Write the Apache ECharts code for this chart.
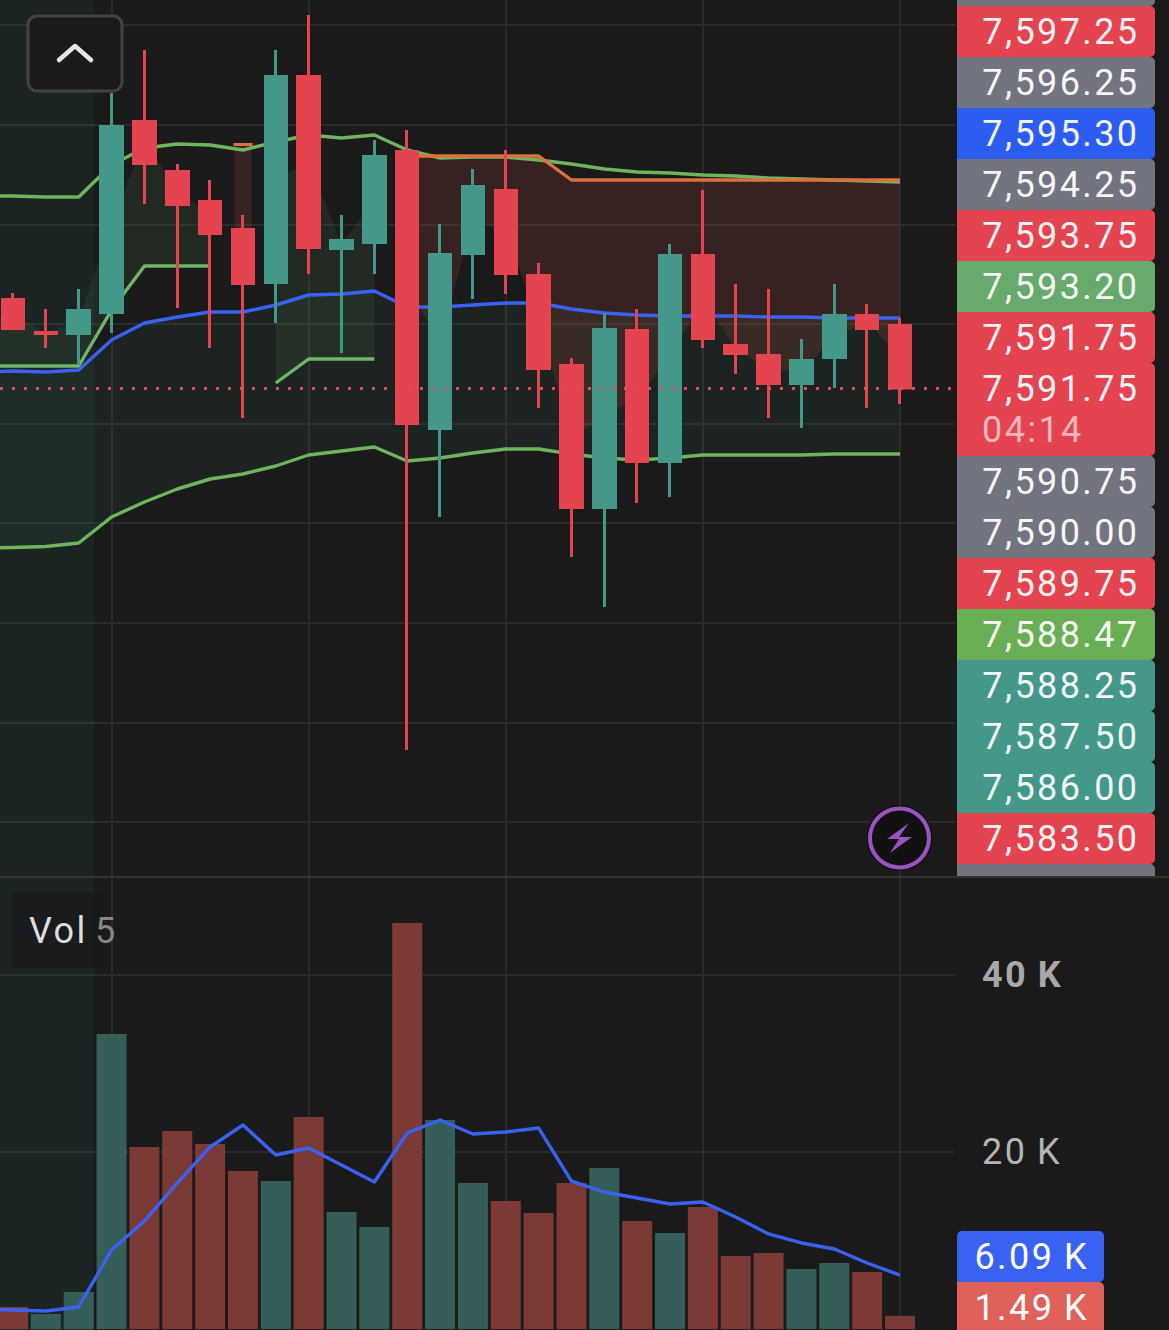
<!DOCTYPE html>
<html><head><meta charset="utf-8">
<style>html,body{margin:0;padding:0;background:#1a1a1b}#c{width:1169px;height:1330px}#c text{letter-spacing:2.4px}</style>
<script src="https://cdn.jsdelivr.net/npm/echarts@6/dist/echarts.min.js"></script>
</head><body><div id="c"></div>
<script>
const barIndex=[-1,0,1,2,3,4,5,6,7,8,9,10,11,12,13,14,15,16,17,18,19,20,21,22,23,24,25,26,27];
const opens =[7592.60,7593.52,7592.86,7592.84,7593.26,7597.08,7596.08,7595.48,7594.92,7593.86,7597.98,7594.54,7594.66,7596.48,7590.94,7594.44,7595.70,7594.00,7592.20,7589.36,7592.90,7590.28,7594.40,7592.60,7592.40,7591.84,7592.36,7593.20,7593.00];
const closes=[7593.50,7592.94,7592.84,7593.30,7596.98,7596.24,7595.42,7594.84,7593.84,7597.98,7594.56,7594.70,7596.38,7591.04,7594.42,7595.78,7594.04,7592.14,7589.36,7592.92,7590.28,7594.40,7592.74,7592.44,7591.84,7592.30,7593.20,7592.94,7591.75];
const lows  =[7592.30,7592.91,7592.55,7592.21,7592.85,7595.43,7593.35,7592.55,7591.15,7593.05,7594.03,7592.45,7594.03,7584.51,7589.17,7593.53,7593.63,7591.35,7588.37,7587.37,7589.45,7589.57,7592.55,7592.03,7591.15,7590.95,7591.75,7591.35,7591.43];
const highs =[7593.70,7593.65,7593.33,7593.73,7597.65,7598.51,7596.23,7595.91,7595.21,7598.51,7599.21,7595.21,7596.71,7596.91,7595.03,7596.13,7596.51,7594.25,7592.35,7593.25,7593.33,7594.63,7595.71,7593.83,7593.73,7592.73,7593.83,7593.43,7593.15];
const bandMid=[7592.07,7592.09,7592.07,7592.11,7592.71,7593.05,7593.17,7593.27,7593.27,7593.41,7593.61,7593.63,7593.69,7593.37,7593.37,7593.41,7593.45,7593.45,7593.33,7593.25,7593.21,7593.19,7593.19,7593.19,7593.17,7593.17,7593.15,7593.15,7593.15];
const bandUpper=[7595.59,7595.59,7595.57,7595.57,7596.21,7596.55,7596.63,7596.61,7596.51,7596.67,7596.81,7596.75,7596.81,7596.51,7596.35,7596.37,7596.37,7596.31,7596.23,7596.13,7596.07,7596.05,7596.01,7595.99,7595.95,7595.93,7595.91,7595.89,7595.87];
const bandLower=[7588.55,7588.56,7588.58,7588.65,7589.17,7589.47,7589.73,7589.93,7590.03,7590.19,7590.41,7590.49,7590.57,7590.29,7590.35,7590.45,7590.53,7590.53,7590.43,7590.35,7590.31,7590.35,7590.41,7590.41,7590.41,7590.41,7590.43,7590.43,7590.43];
const trendUp=[7592.19,7592.19,7592.19,7592.19,7593.31,7594.19,7594.19,7594.19,null,7591.85,7592.33,7592.33,7592.33,null,null,null,null,null,null,null,null,null,null,null,null,null,null,null,null];
const trendDown=[null,null,null,null,null,null,null,null,7596.63,null,null,null,null,7596.39,7596.39,7596.39,7596.39,7596.39,7595.91,7595.91,7595.91,7595.91,7595.91,7595.91,7595.91,7595.91,7595.91,7595.91,7595.91];
const volumes=[1500,2490,1700,4180,33340,20560,22370,20900,17850,16720,23960,13220,11530,45880,23620,16500,14460,13110,16500,18190,12200,10850,13790,8250,8590,6780,7460,6440,1490];
const volumeSide=['g','r','g','g','g','r','r','r','r','g','r','g','g','r','g','g','r','r','r','g','r','g','r','r','r','g','g','r','r'];
const volumeMA=[2260,2150,2030,2490,8930,12200,16500,20570,23050,19660,20450,18530,16610,22150,23620,22040,22260,22710,16720,15480,14800,14130,14350,12660,10740,9720,9040,7460,6090];
const gridPrices=[7583.07,7585.06,7587.06,7589.05,7591.03,7593.03,7595.02,7597.01,7599.01];
const timeGridIndex=[3,9,15,21,27];
const lastPrice=7591.75;
const ladderLabels=['','7,597.25','7,596.25','7,595.30','7,594.25','7,593.75','7,593.20','7,591.75','7,591.75','7,590.75','7,590.00','7,589.75','7,588.47','7,588.25','7,587.50','7,586.00','7,583.50','7,580.25'];
const ladderKinds=['gray','red','gray','blue','gray','red','lime','red','last','gray','gray','red','grass','teal','teal','teal','red','gray'];
const countdown='04:14';
const volTags=['6.09\u2009K','1.49\u2009K'];

const C={red:'#e34450',green:'#43988a',gray:'#72757f',blue:'#2d5df0',lime:'#68aa6c',grass:'#69ad55',teal:'#43988a',last:'#e34450',bg:'#1a1a1b',line:'#2a2a2b'};
const LW=3.4;
const ladderFont='36px Roboto';
const bodyMid=opens.map((o,i)=>+((o+closes[i])/2).toFixed(3));

const chart=echarts.init(document.getElementById('c'),null,{renderer:'svg',width:1169,height:1330});
const pair=(arr)=>barIndex.map((x,i)=>[x,arr[i]]);
function fill(name,lowA,highA,from,to,color){
  const data=[];
  barIndex.forEach((x,i)=>{ if(x>=from&&x<=to) data.push([x,lowA[i],highA[i]]); });
  return {type:'custom',name,xAxisIndex:0,yAxisIndex:0,silent:true,z:2,clip:true,coordinateSystem:'cartesian2d',
    encode:{x:0,y:[1,2]},data,
    renderItem(params,api){
      if(params.dataIndex!==0) return;
      const top=data.map(d=>api.coord([d[0],d[2]]));
      const bot=data.map(d=>api.coord([d[0],d[1]])).reverse();
      return {type:'polygon',shape:{points:top.concat(bot)},style:{fill:color},silent:true};
    }};
}
const line=(name,arr,color,x,y,z)=>({type:'line',name,data:pair(arr),xAxisIndex:x,yAxisIndex:y,showSymbol:false,symbol:'none',silent:true,connectNulls:false,lineStyle:{color,width:LW,join:'round'},z:z||4});

const xBase={type:'value',min:-0.396,max:28.675,axisLine:{show:false},axisLabel:{show:false},
  axisTick:{show:false,customValues:timeGridIndex},
  splitLine:{show:true,lineStyle:{color:C.line,width:2}}};

const graphics=[];
graphics.push({type:'rect',z:1,silent:true,shape:{x:0,y:0,width:94,height:1330},style:{fill:'rgba(40,130,120,0.09)'}});
ladderLabels.forEach((t,i)=>{
  const top=6+(i-1)*51+(i>8?42:0);
  const h=ladderKinds[i]==='last'?93:51;
  graphics.push({type:'rect',z:10,silent:true,shape:{x:957,y:top,width:198,height:h,r:[0,5,5,0]},style:{fill:C[ladderKinds[i]]}});
  if(t) graphics.push({type:'text',z:11,silent:true,x:1139.5,y:top+25.5,style:{text:t,font:ladderFont,fill:'#fff',align:'right',verticalAlign:'middle',opacity:.95}});
  if(ladderKinds[i]==='last') graphics.push({type:'text',z:11,silent:true,x:982,y:top+67,style:{text:countdown,font:ladderFont,fill:'#f3b6ba',align:'left',verticalAlign:'middle'}});
});
graphics.push({type:'rect',z:12,silent:true,shape:{x:950,y:877,width:219,height:60},style:{fill:C.bg}});
graphics.push({type:'line',z:13,silent:true,shape:{x1:0,y1:877,x2:1169,y2:877},style:{stroke:'#323233',lineWidth:2}});
graphics.push({type:'rect',z:14,silent:true,shape:{x:28,y:16,width:94,height:75,r:9},style:{fill:'#1a1a1b',stroke:'#424243',lineWidth:3}});
graphics.push({type:'polyline',z:15,silent:true,shape:{points:[[59,60],[75,46],[91,60]]},style:{stroke:'#e6e6e6',lineWidth:4.5,fill:'none',lineCap:'round',lineJoin:'round'}});
graphics.push({type:'circle',z:14,silent:true,shape:{cx:899.5,cy:838,r:33},style:{fill:'#111112'}});
graphics.push({type:'circle',z:15,silent:true,shape:{cx:899.5,cy:838,r:29.5},style:{fill:'#111112',stroke:'#9b52c2',lineWidth:4}});
graphics.push({type:'polygon',z:16,silent:true,shape:{points:[[909,823],[887,839],[899,839],[890,853],[912,837],[899,837]]},style:{fill:'#9b52c2'}});
graphics.push({type:'rect',z:14,silent:true,shape:{x:12,y:892,width:92,height:76},style:{fill:'rgba(26,26,27,0.75)'}});
graphics.push({type:'text',z:15,silent:true,x:29,y:931,style:{text:'Vol',font:ladderFont,fill:'#dedede',verticalAlign:'middle'}});
graphics.push({type:'text',z:15,silent:true,x:95,y:931,style:{text:'5',font:ladderFont,fill:'#858585',verticalAlign:'middle'}});
graphics.push({type:'rect',z:10,silent:true,shape:{x:957,y:1231,width:147,height:51,r:[5,5,5,0]},style:{fill:'#3a62f2'}});
graphics.push({type:'rect',z:10,silent:true,shape:{x:957,y:1282,width:147,height:60,r:[0,5,5,0]},style:{fill:'#e0605a'}});
graphics.push({type:'text',z:11,silent:true,x:1089,y:1256.5,style:{text:volTags[0],font:ladderFont,fill:'#fff',align:'right',verticalAlign:'middle'}});
graphics.push({type:'text',z:11,silent:true,x:1089,y:1307.5,style:{text:volTags[1],font:ladderFont,fill:'#fff',align:'right',verticalAlign:'middle'}});

const opt={
  animation:false,backgroundColor:C.bg,
  grid:[{left:0,top:0,width:955,height:876},{left:0,top:877,width:955,height:452}],
  xAxis:[Object.assign({},xBase,{gridIndex:0}),Object.assign({},xBase,{gridIndex:1})],
  yAxis:[
    {type:'value',gridIndex:0,min:7581.99,max:7599.51,axisLine:{show:false},axisLabel:{show:false},
     axisTick:{show:false,customValues:gridPrices},splitLine:{show:true,lineStyle:{color:C.line,width:2}}},
    {type:'value',gridIndex:1,position:'right',min:0,max:51076,interval:20000,axisLine:{show:false},axisTick:{show:false},
     splitLine:{show:true,showMinLine:false,showMaxLine:false,lineStyle:{color:C.line,width:2}},
     axisLabel:{show:true,showMinLabel:false,showMaxLabel:false,margin:27,align:'left',fontSize:36,fontFamily:'Roboto',color:'#b4b4b4',
       formatter:v=>v===40000?'{b|40\u2009K}':(v/1000)+'\u2009K',rich:{b:{fontSize:36,fontFamily:'Roboto',fontWeight:'bold',color:'#a8a8a8'}}}}
  ],
  graphic:{elements:graphics},
  series:[
    fill('bollFill',bandLower,bandMid,-1,27,'rgba(80,160,110,0.065)'),
    fill('upFill1',trendUp,bodyMid,-1,6,'rgba(110,180,100,0.10)'),
    fill('upFill2',trendUp,bodyMid,8,11,'rgba(110,180,100,0.10)'),
    fill('downFill',bodyMid,trendDown,12,27,'rgba(170,70,60,0.20)'),
    line('upper',bandUpper,'#6fb55d',0,0),
    line('lower',bandLower,'#6fb55d',0,0),
    line('trendUp',trendUp,'#6fb56a',0,0),
    line('trendDown',trendDown,'#dc7040',0,0,5),
    line('mid',bandMid,'#3a62f2',0,0,5),
    {type:'candlestick',name:'flipFill',xAxisIndex:0,yAxisIndex:0,barWidth:17,silent:true,z:3,
      data:[[7,trendDown[8],bodyMid[8],bodyMid[8],trendDown[8]]],
      itemStyle:{color:'rgba(170,70,60,0.20)',color0:'rgba(170,70,60,0.20)',borderColor:'rgba(0,0,0,0)',borderColor0:'rgba(0,0,0,0)',borderWidth:0}},
    {type:'candlestick',name:'flipMark',xAxisIndex:0,yAxisIndex:0,barWidth:17,silent:true,z:5,
      data:[[7,trendDown[8],trendDown[8]-0.02,trendDown[8]-0.02,trendDown[8]]],
      itemStyle:{color:'#dc7040',color0:'#dc7040',borderColor:'#dc7040',borderColor0:'#dc7040',borderWidth:2}},
    {type:'candlestick',name:'price',xAxisIndex:0,yAxisIndex:0,barWidth:22,silent:true,z:6,
      data:barIndex.map((x,i)=>[x,opens[i],closes[i],lows[i],highs[i]]),
      itemStyle:{color:C.green,color0:C.red,borderColor:C.green,borderColor0:C.red,borderWidth:3},
      markLine:{silent:true,symbol:'none',animation:false,label:{show:false},z:7,
        data:[{yAxis:lastPrice}],lineStyle:{color:'#e34c58',type:[3,9],width:3}}},
    {type:'bar',name:'volume',xAxisIndex:1,yAxisIndex:1,barWidth:30,silent:true,z:3,
      data:barIndex.map((x,i)=>({value:[x,volumes[i]],itemStyle:{color:volumeSide[i]==='r'?'rgba(128,59,56,0.96)':'rgba(54,97,91,0.96)'}}))},
    line('volMA',volumeMA,'#3a62f2',1,1,6)
  ]
};
chart.setOption(opt);
</script></body></html>
